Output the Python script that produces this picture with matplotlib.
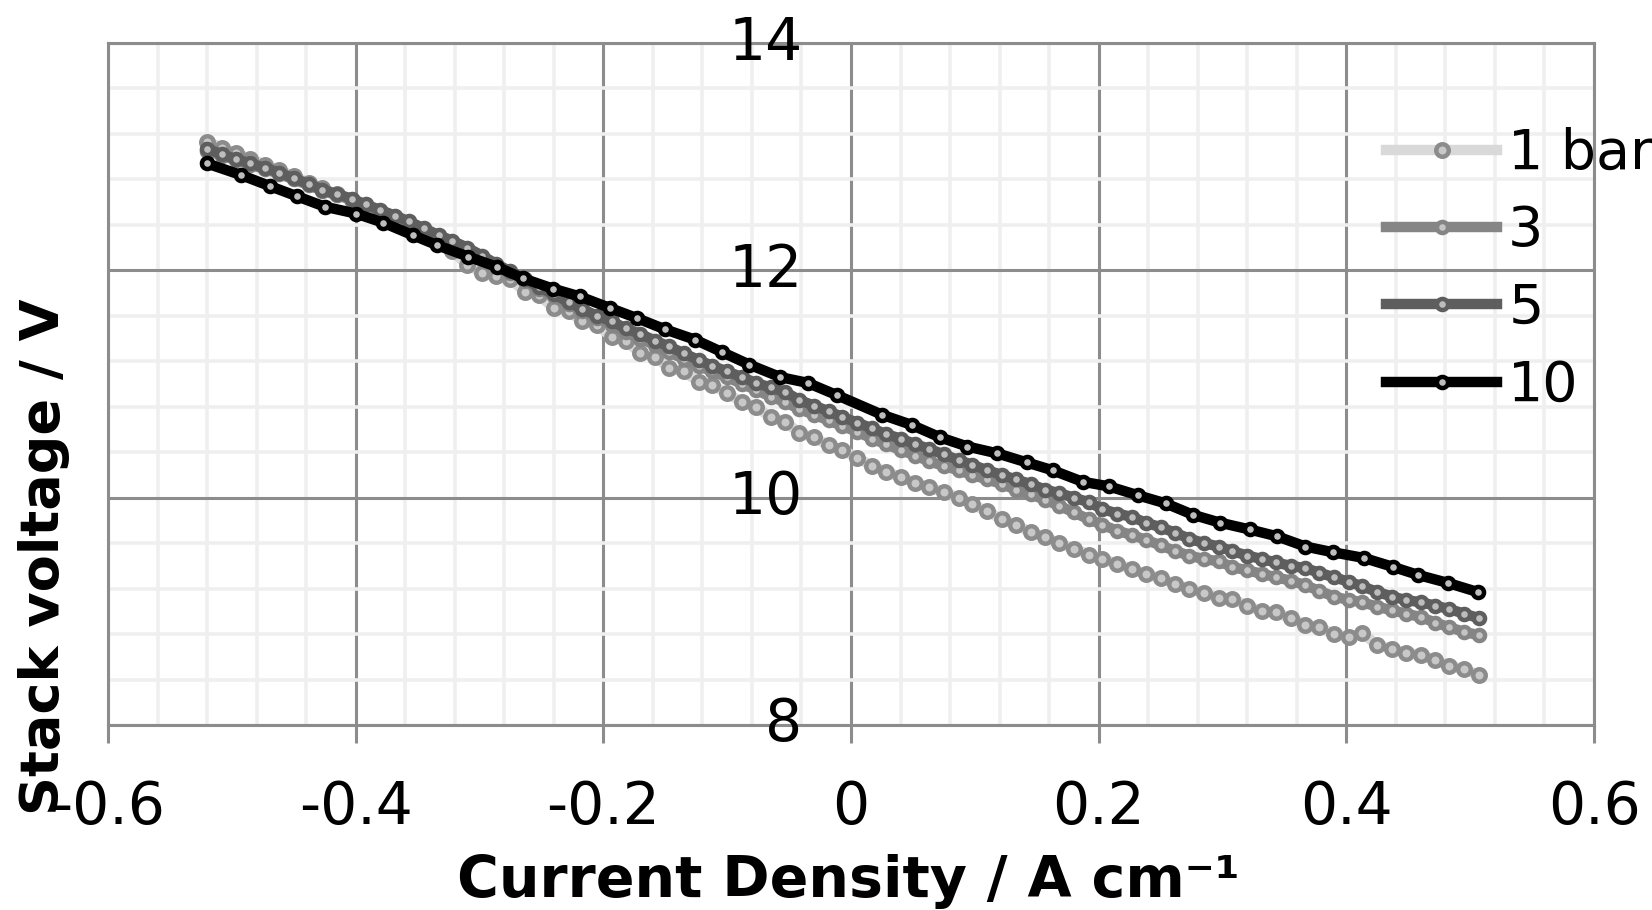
import matplotlib
matplotlib.use("Agg")
import matplotlib.pyplot as plt
from matplotlib.ticker import MultipleLocator

# current density (A cm-1) for the densely sampled runs (1, 3, 5 bar)
j_fine = [-0.520, -0.508, -0.497, -0.485, -0.473, -0.462, -0.450, -0.438, -0.427, -0.415,
          -0.403, -0.392, -0.380, -0.368, -0.357, -0.345, -0.333, -0.322, -0.310, -0.298,
          -0.287, -0.275, -0.263, -0.252, -0.240, -0.228, -0.217, -0.205, -0.193, -0.182,
          -0.170, -0.158, -0.147, -0.135, -0.123, -0.112, -0.100, -0.088, -0.077, -0.065,
          -0.053, -0.042, -0.030, -0.018, -0.007, 0.005, 0.017, 0.028, 0.040, 0.052,
          0.063, 0.075, 0.087, 0.098, 0.110, 0.122, 0.133, 0.145, 0.157, 0.168,
          0.180, 0.192, 0.203, 0.215, 0.227, 0.238, 0.250, 0.262, 0.273, 0.285,
          0.297, 0.308, 0.320, 0.332, 0.343, 0.355, 0.367, 0.378, 0.390, 0.402,
          0.413, 0.425, 0.437, 0.448, 0.460, 0.472, 0.483, 0.495, 0.507]

v_1bar = [13.13, 13.08, 13.03, 12.98, 12.93, 12.88, 12.83, 12.77, 12.72, 12.67,
          12.62, 12.56, 12.50, 12.44, 12.38, 12.31, 12.24, 12.17, 12.05, 11.98,
          11.95, 11.92, 11.81, 11.78, 11.67, 11.64, 11.55, 11.52, 11.41, 11.38,
          11.27, 11.24, 11.14, 11.11, 11.02, 10.99, 10.92, 10.84, 10.80, 10.71,
          10.67, 10.57, 10.53, 10.46, 10.42, 10.35, 10.28, 10.23, 10.18, 10.13,
          10.09, 10.05, 10.00, 9.94, 9.88, 9.81, 9.76, 9.70, 9.65, 9.60,
          9.55, 9.50, 9.46, 9.42, 9.37, 9.33, 9.29, 9.24, 9.20, 9.16,
          9.12, 9.11, 9.05, 9.00, 8.99, 8.94, 8.88, 8.86, 8.80, 8.77,
          8.81, 8.70, 8.67, 8.63, 8.62, 8.57, 8.52, 8.49, 8.44]

v_3bar = [13.05, 13.01, 12.97, 12.93, 12.89, 12.85, 12.80, 12.75, 12.70, 12.66,
          12.62, 12.57, 12.52, 12.47, 12.42, 12.36, 12.30, 12.25, 12.19, 12.12,
          12.05, 11.98, 11.91, 11.84, 11.77, 11.70, 11.64, 11.58, 11.52, 11.46,
          11.40, 11.34, 11.28, 11.22, 11.16, 11.11, 11.06, 11.00, 10.95, 10.89,
          10.84, 10.78, 10.73, 10.68, 10.63, 10.58, 10.52, 10.47, 10.42, 10.37,
          10.32, 10.28, 10.24, 10.20, 10.16, 10.12, 10.07, 10.03, 9.98, 9.93,
          9.87, 9.81, 9.76, 9.71, 9.67, 9.63, 9.58, 9.53, 9.49, 9.46,
          9.44, 9.39, 9.36, 9.33, 9.30, 9.27, 9.23, 9.18, 9.13, 9.10,
          9.08, 9.04, 9.01, 8.98, 8.95, 8.90, 8.86, 8.82, 8.79]

v_5bar = [13.07, 13.02, 12.98, 12.94, 12.90, 12.86, 12.81, 12.76, 12.71, 12.67,
          12.63, 12.58, 12.53, 12.48, 12.43, 12.37, 12.31, 12.26, 12.20, 12.13,
          12.06, 11.99, 11.92, 11.85, 11.79, 11.72, 11.66, 11.60, 11.55, 11.49,
          11.44, 11.38, 11.33, 11.27, 11.21, 11.16, 11.11, 11.06, 11.01, 10.97,
          10.93, 10.86, 10.81, 10.76, 10.71, 10.66, 10.61, 10.56, 10.52, 10.47,
          10.43, 10.38, 10.33, 10.29, 10.24, 10.20, 10.16, 10.12, 10.07, 10.04,
          10.00, 9.96, 9.90, 9.86, 9.83, 9.78, 9.74, 9.69, 9.64, 9.60,
          9.57, 9.53, 9.49, 9.46, 9.43, 9.40, 9.38, 9.34, 9.30, 9.26,
          9.22, 9.17, 9.13, 9.10, 9.08, 9.05, 9.02, 8.98, 8.94]

# 10 bar run was sampled at about half the rate
j_10bar = [-0.520, -0.493, -0.469, -0.447, -0.425, -0.400, -0.378, -0.354, -0.334, -0.309,
           -0.286, -0.265, -0.241, -0.219, -0.195, -0.173, -0.150, -0.126, -0.104, -0.082,
           -0.057, -0.035, -0.011, 0.025, 0.049, 0.072, 0.094, 0.118, 0.142, 0.163,
           0.187, 0.208, 0.232, 0.254, 0.276, 0.298, 0.322, 0.344, 0.367, 0.389,
           0.414, 0.438, 0.458, 0.482, 0.506]
v_10bar = [12.94, 12.84, 12.74, 12.65, 12.56, 12.50, 12.42, 12.31, 12.22, 12.12,
           12.03, 11.93, 11.84, 11.77, 11.67, 11.58, 11.48, 11.39, 11.28, 11.17,
           11.06, 11.01, 10.90, 10.73, 10.64, 10.53, 10.45, 10.39, 10.31, 10.24,
           10.14, 10.10, 10.02, 9.95, 9.85, 9.78, 9.72, 9.66, 9.57, 9.52,
           9.47, 9.39, 9.32, 9.25, 9.17]

series_labels = ["1 bar", "3", "5", "10"]
x_ticks = [-0.6, -0.4, -0.2, 0, 0.2, 0.4, 0.6]
x_tick_labels = ["-0.6", "-0.4", "-0.2", "0", "0.2", "0.4", "0.6"]
y_ticks = [8, 10, 12, 14]
y_tick_labels = ["8", "10", "12", "14"]

W, H = 1652, 910
fig = plt.figure(figsize=(W / 100, H / 100), dpi=100)
ax = fig.add_axes([108 / W, 1 - 725 / H, (1594 - 108) / W, (725 - 43) / H])

major_c = "#8c8c8c"
minor_c = "#efefef"

ax.set_xlim(-0.6, 0.6)
ax.set_ylim(8, 14)
ax.set_xticks(x_ticks)
ax.set_xticklabels(x_tick_labels)
ax.xaxis.set_minor_locator(MultipleLocator(0.04))
ax.set_yticks(y_ticks)
ax.set_yticklabels([])
ax.yaxis.set_minor_locator(MultipleLocator(0.4))
ax.grid(which="minor", color=minor_c, lw=2.6, zorder=0)
ax.grid(which="major", color=major_c, lw=2.2, zorder=1)
ax.set_axisbelow(True)
for s in ax.spines.values():
    s.set_color(major_c)
    s.set_linewidth(2.2)
ax.tick_params(axis="x", which="major", length=13, width=2.2, color=major_c,
               labelsize=42, pad=26, direction="out")
ax.tick_params(axis="y", which="major", length=0, labelsize=42)
ax.tick_params(which="minor", length=0)

# y labels sit beside the vertical axis at x = 0 (Excel style)
for v, lbl in zip(y_ticks, y_tick_labels):
    ax.annotate(lbl, (0, v), xytext=(-35, 0), textcoords="offset points",
                ha="right", va="center", fontsize=42, annotation_clip=False)

l1, = ax.plot(j_fine, v_1bar, color="#d9d9d9", lw=7.5, marker="o", ms=9,
              mfc="#c8c8c8", mec="#8c8c8c", mew=3.2, zorder=3)
l3, = ax.plot(j_fine, v_3bar, color="#858585", lw=7.5, marker="o", ms=8,
              mfc="#c4c4c4", mec="#858585", mew=3.2, zorder=4)
l5, = ax.plot(j_fine, v_5bar, color="#5e5e5e", lw=7.5, marker="o", ms=8,
              mfc="#bdbdbd", mec="#5e5e5e", mew=3.2, zorder=5)
l10, = ax.plot(j_10bar, v_10bar, color="black", lw=7.5, marker="o", ms=8,
               mfc="#bdbdbd", mec="black", mew=3.2, zorder=6)

fig.legend([l1, l3, l5, l10], series_labels, loc="upper left",
           bbox_to_anchor=(1386 / W, 1 - 127 / H), frameon=False, borderpad=0,
           borderaxespad=0, handlelength=2.0, handletextpad=0.2,
           labelspacing=0.42, fontsize=40)

fig.text(848 / W, 1 - 897 / H, "Current Density / A cm⁻¹", ha="center",
         va="baseline", fontsize=41, fontweight="bold")
fig.text(44 / W, 1 - 557 / H, "Stack voltage / V", ha="center", va="center",
         rotation=90, fontsize=39, fontweight="bold")

fig.savefig("out.png", dpi=100)
